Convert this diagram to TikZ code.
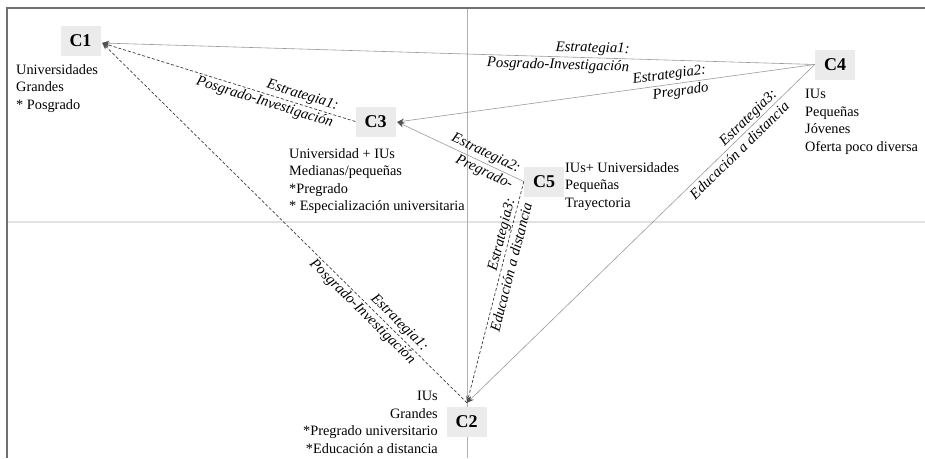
\documentclass[tikz,border=0pt]{standalone}
\usepackage{fontspec}
\setmainfont{Liberation Serif}
\usetikzlibrary{arrows.meta}
\definecolor{boxgray}{HTML}{EBEBEB}
\definecolor{solidgray}{HTML}{9A9A9A}
\definecolor{dashgray}{HTML}{3C3C3C}
\definecolor{tipgray}{HTML}{505050}
\definecolor{framegray}{HTML}{707070}
\definecolor{axisgray}{HTML}{E2E2E2}
\definecolor{vaxisgray}{HTML}{B0B0B0}
\begin{document}
\begin{tikzpicture}[x=1pt,y=-1pt,
  cbox/.style={fill=boxgray, minimum width=40pt, minimum height=30pt, inner sep=0pt, font=\fontsize{18}{20}\selectfont\bfseries},
  desc/.style={inner sep=0pt, align=left, font=\fontsize{14.3}{17.6}\selectfont},
  lab/.style={sloped, inner sep=0pt, align=right, font=\fontsize{14.8}{18}\selectfont\itshape},
  solidln/.style={draw=solidgray, line width=0.6pt, -{Stealth[length=7pt,width=5pt,color=tipgray]}},
  dashln/.style={draw=dashgray, line width=0.7pt, dash pattern=on 3pt off 2pt, -{Stealth[length=7pt,width=5pt,color=tipgray]}}]
\useasboundingbox (0,0) rectangle (925,458);
% frame and axes
\draw[framegray, line width=1.3pt] (7,458) -- (7,8) -- (925,8);
\draw[axisgray, line width=1.8pt] (8,222) -- (925,222);
\draw[vaxisgray, line width=0.7pt] (467,9) -- (467,458);
% cluster boxes
\node[cbox] (C1) at (80.5,41) {C1};
\node[cbox] (C3) at (375.5,121.5) {C3};
\node[cbox] (C4) at (835,64.5) {C4};
\node[cbox] (C5) at (544,181.5) {C5};
\node[cbox] (C2) at (466.5,422) {C2};
% descriptions
\node[desc, anchor=north west] (d1) at (16,64) {Universidades\\Grandes\\* Posgrado};
\node[desc, anchor=north west] (d3) at (289,148) {Universidad + IUs\\Medianas/pequeñas\\*Pregrado\\* Especialización universitaria};
\node[desc, anchor=north west] (d4) at (805,89) {IUs\\Pequeñas\\Jóvenes\\Oferta poco diversa};
\node[desc, anchor=north west] (d5) at (565,162) {IUs+ Universidades\\Pequeñas\\Trayectoria};
\node[desc, anchor=north east, align=right] (d2) at (438,391) {IUs\\Grandes\\*Pregrado universitario\\*Educación a distancia};
% connectors
\draw[solidln] (C4.west) -- node[lab, pos=0.36] {Estrategia1:\\Posgrado-Investigación} ([shift={(1.5,2)}]C1.east);
\draw[solidln] (C4.west) -- node[lab, pos=0.345] {Estrategia2:\\Pregrado} ([shift={(1.5,0.5)}]C3.east);
\draw[solidln] (C4.west) -- node[lab, pos=0.235] {Estrategia3:\\Educación a distancia} ([shift={(0.5,-4)}]C2.north);
\draw[dashln] (C3.west) -- node[lab, pos=0.348] {Estrategia1:\\Posgrado-Investigación} ([shift={(1.5,2)}]C1.east);
\draw[dashln] ([shift={(0.5,-4)}]C2.north) -- node[lab, pos=0.27] {Estrategia1:\\Posgrado-Investigación} ([shift={(1.5,2)}]C1.east);
\draw[solidln] (C5.west) -- node[lab, pos=0.33] {Estrategia2:\\Pregrado-} ([shift={(1.5,0.5)}]C3.east);
\draw[dashln] (C5.west) -- node[lab, pos=0.377] {Estrategia3:\\Educación a distancia} ([shift={(0.5,-4)}]C2.north);
\end{tikzpicture}
\end{document}
